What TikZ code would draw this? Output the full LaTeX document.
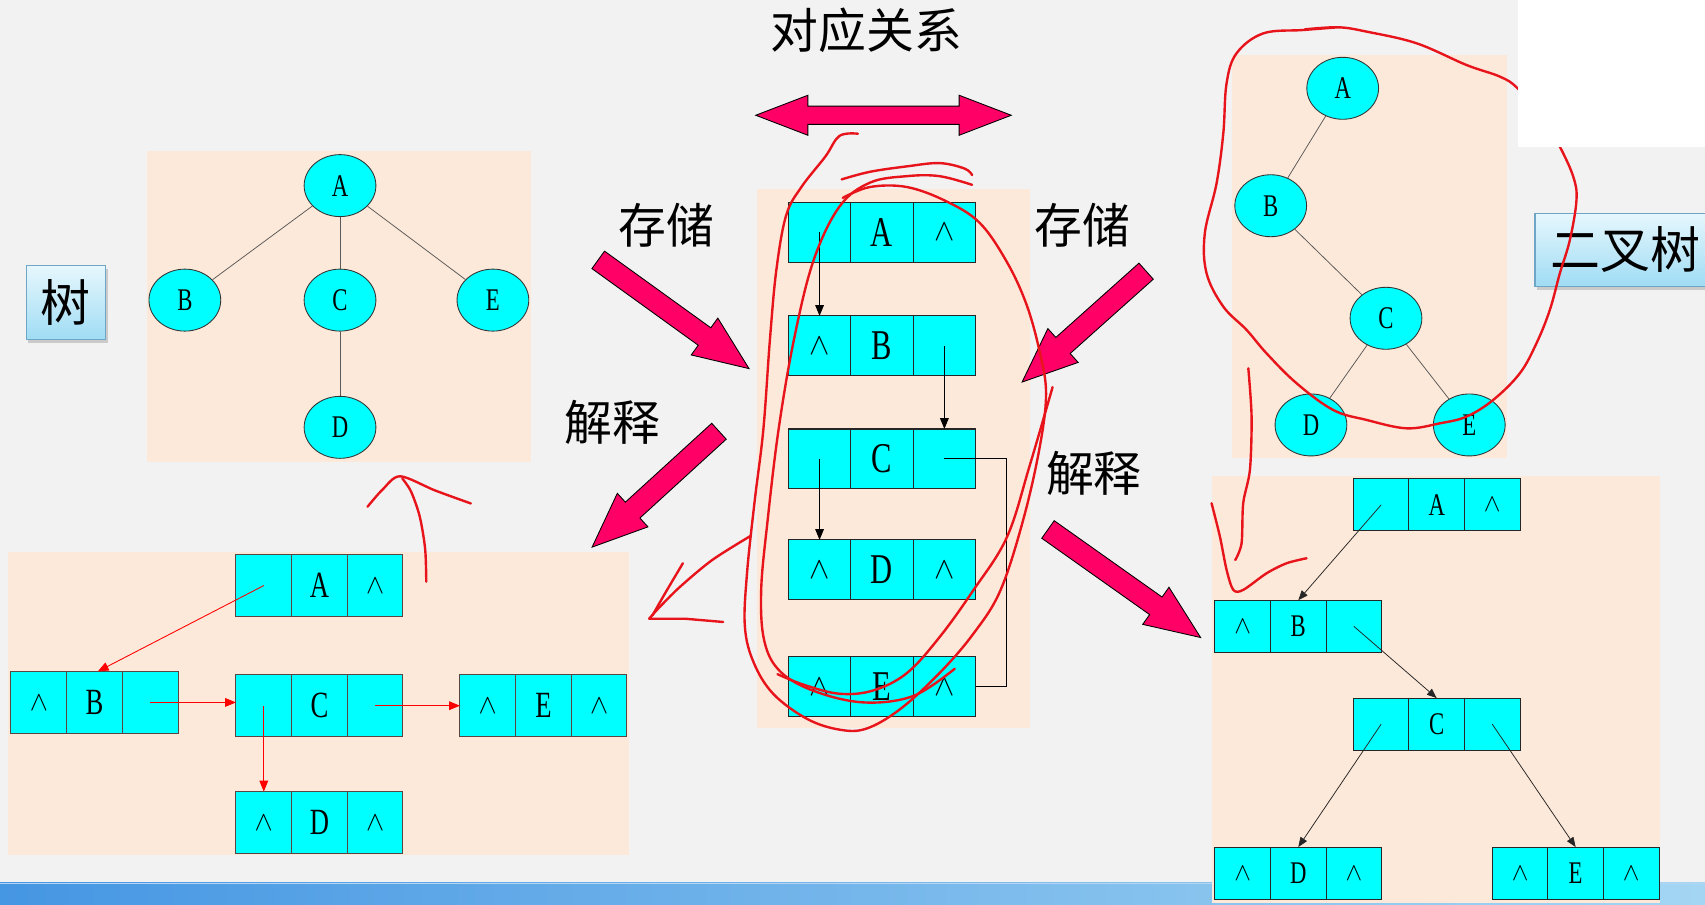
\documentclass[tikz,border=0pt]{standalone}
\usepackage{fix-cm}
\usepackage{fontspec}
\usepackage{graphicx}
\usetikzlibrary{shapes.geometric,shapes.arrows,shadows,arrows.meta,calc}
\setmainfont{Liberation Serif}
\newfontfamily\cjkf{Noto Sans CJK SC}
\newfontfamily\latf[FakeStretch=0.72]{Liberation Serif}
\newcommand\nilsym[1]{{\fontsize{#1}{#1}\selectfont$\wedge$}}
\newcommand\triprow[6]{%
  \node[#1, anchor=west] (#21) at (#3) {#4};
  \node[#1, anchor=west] (#22) at (#21.east) {#5};
  \node[#1, anchor=west] (#23) at (#22.east) {#6};}
\definecolor{bgc}{HTML}{F2F2F2}
\definecolor{peach}{HTML}{FDE9D9}
\definecolor{cy}{HTML}{00FFFF}
\definecolor{pinkc}{HTML}{FF0066}
\definecolor{scribred}{HTML}{E8141B}
\definecolor{barL}{HTML}{4596E3}
\definecolor{barR}{HTML}{A4D6F3}
\definecolor{boxtop}{HTML}{E6F7FD}
\definecolor{boxbot}{HTML}{9FDCF4}
\definecolor{boxline}{HTML}{6FA6C6}
\definecolor{lborder}{HTML}{5A4545}
\tikzset{
  panel/.style={fill=peach, draw=none},
  tnode/.style={ellipse, draw=black!80, fill=cy, line width=0.8pt, minimum width=66pt, minimum height=57pt, inner sep=0pt, font=\latf\fontsize{29}{29}\selectfont},
  tedge/.style={draw=black!65, line width=0.7pt},
  cellL/.style={draw=lborder, fill=cy, line width=0.9pt, minimum width=51.2pt, minimum height=57pt, inner sep=0pt, outer sep=0pt, font=\latf\fontsize{34}{34}\selectfont},
  cellM/.style={draw=black!85, fill=cy, line width=1pt, minimum width=57.4pt, minimum height=55pt, inner sep=0pt, outer sep=0pt, font=\latf\fontsize{39}{39}\selectfont},
  cellR/.style={draw=black!85, fill=cy, line width=0.9pt, minimum width=51.1pt, minimum height=48pt, inner sep=0pt, outer sep=0pt, font=\latf\fontsize{29}{29}\selectfont},
  redarr/.style={draw=red, line width=0.8pt, -{Triangle[length=10pt,width=8pt]}, red},
  blkarr/.style={draw=black, line width=1pt, -{Triangle[length=10pt,width=8pt]}},
  thinarr/.style={draw=black!85, line width=0.7pt, -{Triangle[length=9pt,width=7pt]}},
  barrow/.style={single arrow, draw=black, line width=0.8pt, fill=pinkc, minimum width=41pt, single arrow head extend=11pt, single arrow tip angle=45, inner xsep=0pt, inner ysep=9.5pt, outer sep=0pt},
  lbl/.style={inner sep=0pt, font=\cjkf\fontsize{44}{44}\selectfont},
  labbox/.style={draw=boxline, line width=1pt, top color=boxtop, bottom color=boxbot, inner sep=0pt, font=\cjkf\fontsize{46}{46}\selectfont, drop shadow={shadow xshift=2pt, shadow yshift=-3pt, opacity=0.35}},
  scrib/.style={draw=scribred, line width=2.2pt, line cap=round, line join=round}
}
\begin{document}
\begin{tikzpicture}[x=1pt,y=-1pt]
\useasboundingbox (0,0) rectangle (1568,832);
\clip (0,0) rectangle (1568,832);
\fill[bgc] (0,0) rectangle (1568,832);
% bottom bar
\shade[left color=barL, right color=barR] (0,812) rectangle (1568,832);
\draw[draw=white!60!barL, line width=1.2pt] (0,812.6) -- (1568,812.6);
% panels
\fill[panel] (135,139) rectangle (488,424.6);
\fill[panel] (7.5,508) rectangle (578,786);
\fill[panel] (696,174) rectangle (947,669.5);
\fill[panel] (1132.7,50.6) rectangle (1385.6,421.5);
\fill[panel] (1114.3,437.7) rectangle (1526.6,830);

% left tree
\node[tnode] (tA) at (312.7,170.7) {A};
\node[tnode] (tB) at (170,276) {B};
\node[tnode] (tC) at (312.7,276) {C};
\node[tnode] (tE) at (453.3,276) {E};
\node[tnode] (tD) at (312.7,393) {D};
\draw[tedge] (tA) -- (tB);
\draw[tedge] (tA) -- (tC);
\draw[tedge] (tA) -- (tE);
\draw[tedge] (tC) -- (tD);

% right binary tree
\node[tnode] (bA) at (1234.8,81.2) {A};
\node[tnode] (bB) at (1168.6,189.2) {B};
\node[tnode] (bC) at (1274.6,292.7) {C};
\node[tnode] (bD) at (1205.6,390.8) {D};
\node[tnode] (bE) at (1351.2,390.8) {E};
\draw[tedge] (bA) -- (bB);
\draw[tedge] (bB) -- (bC);
\draw[tedge] (bC) -- (bD);
\draw[tedge] (bC) -- (bE);

% left-bottom linked tree
\triprow{cellL}{lA}{217,538.5}{}{A}{\nilsym{25}}
\triprow{cellL}{lB}{10.1,646}{\nilsym{25}}{B}{}
\triprow{cellL}{lC}{217,649}{}{C}{}
\triprow{cellL}{lE}{423,649}{\nilsym{25}}{E}{\nilsym{25}}
\triprow{cellL}{lD}{217,756.5}{\nilsym{25}}{D}{\nilsym{25}}
\draw[redarr] (lA1.center) -- ([xshift=3pt]lB2.north);
\draw[redarr] (lB3.center) -- (lB3.center -| lC1.west);
\draw[redarr] (lC3.center) -- (lC3.center -| lE1.west);
\draw[redarr] (lC1.center) -- (lC1.center |- lD1.north);

% middle storage
\triprow{cellM}{mA}{725,213.5}{}{A}{\nilsym{28}}
\triprow{cellM}{mB}{725,318}{\nilsym{28}}{B}{}
\triprow{cellM}{mC}{725,422}{}{C}{}
\triprow{cellM}{mD}{725,524}{\nilsym{28}}{D}{\nilsym{28}}
\triprow{cellM}{mE}{725,631.5}{\nilsym{28}}{E}{\nilsym{28}}
\coordinate (mturn) at (926,422);
\draw[blkarr] (mA1.center) -- (mA1.center |- mB1.north);
\draw[blkarr] (mB3.center) -- (mB3.center |- mC3.north);
\draw[blkarr] (mC1.center) -- (mC1.center |- mD1.north);
\draw[draw=black, line width=1pt] (mC3.center) -- (mturn) |- (mE3.east);

% right-bottom binary linked
\triprow{cellR}{rA}{1244.6,464.3}{}{A}{\nilsym{23}}
\triprow{cellR}{rB}{1117.3,576}{\nilsym{23}}{B}{}
\triprow{cellR}{rC}{1244.6,666}{}{C}{}
\triprow{cellR}{rD}{1117.3,803}{\nilsym{23}}{D}{\nilsym{23}}
\triprow{cellR}{rE}{1372.4,803}{\nilsym{23}}{E}{\nilsym{23}}
\draw[thinarr] (rA1.center) -- (rB2.north);
\draw[thinarr] (rB3.center) -- (rC2.north);
\draw[thinarr] (rC1.center) -- (rD2.north);
\draw[thinarr] (rC3.center) -- (rE2.north);

% block arrows
\node[double arrow, draw=black, line width=0.8pt, fill=pinkc, minimum height=235pt, minimum width=36pt, double arrow head extend=10pt, double arrow tip angle=42, inner xsep=0pt, inner ysep=8pt] (rel) at (812.5,106) {};
\node[barrow, minimum height=171pt, rotate=-35.8] (s1) at (609.8,282) {};
\node[barrow, minimum height=158pt, rotate=-137.6] (j1) at (611.7,441.8) {};
\node[barrow, minimum height=153pt, rotate=-138.2] (s2) at (1005.9,292.4) {};
\node[barrow, minimum height=172pt, rotate=-35.3] (j2) at (1024.2,529.7) {};

% labels
\node[lbl] (title) at (797,28) {对应关系};
\node[lbl] (ls) at (613,207) {存储};
\node[lbl] (lj) at (563,388) {解释};
\node[lbl] (rs) at (995.5,207) {存储};
\node[lbl] (rj) at (1006,435) {解释};
\node[labbox, minimum width=73pt, minimum height=68pt] (shu) at (60.5,278.5) {树};
\node[labbox, minimum width=166pt, minimum height=67.6pt] (ecs) at (1494.6,229.8) {二叉树};

% red hand-drawn marks
\draw[scrib] plot[smooth, tension=0.6] coordinates {(789,123)(772,125)(759,144)(737,172)(723,198)(714,248)(708,313)(702,395)(694,461)(687,527)(685,576)(693,609)(711,638)(742,661)(772,671)(797,670)(828,652)(864,619)(895,583)(920,543)(941,478)(956,412)(962,362)(956,323)(944,280)(926,241)(901,205)(870,185)(834,172)(800,172)(775,182)};
\draw[scrib] plot[smooth, tension=0.6] coordinates {(774,165)(800,158)(834,153)(864,150)(887,155)(894,161)};
\draw[scrib] plot[smooth, tension=0.6] coordinates {(894,170)(864,162)(834,162)(800,168)(772,190)(748,240)(730,313)(716,395)(706,478)(700,543)(703,590)(718,618)(750,636)(795,646)(840,640)(878,615)};
\draw[scrib] plot[smooth, tension=0.6] coordinates {(968,356)(947,428)(926,494)(895,543)(864,586)(834,619)(803,635)(772,638)(740,630)(715,620)};
\draw[scrib] plot[smooth, tension=0.5] coordinates {(690,493)(655,515)(625,540)(605,560)(597,569)} -- (630,569) -- (665,572);
\draw[scrib] plot[smooth, tension=0.5] coordinates {(628,518)(612,545)(600,566)};
\draw[scrib] plot[smooth, tension=0.5] coordinates {(392,535)(391,505)(386,475)(378,452)(370,440)};
\draw[scrib] plot[smooth, tension=0.5] coordinates {(338,466)(352,450)(368,438)(400,451)(433,463)};
\draw[scrib] plot[smooth, tension=0.6] coordinates {(1230.7,25.1)(1198.5,27.6)(1161.7,30.7)(1137.2,49)(1128,76.6)(1125,122.6)(1118.8,168.6)(1108,214.6)(1109.6,251.3)(1125,282)(1146.4,303.4)(1164.8,325)(1192.4,352.5)(1226,377)(1256.8,386.2)(1293.5,393.9)(1324.2,389.3)(1348.7,383.1)(1373.2,367.8)(1397.7,343.3)(1413,315.7)(1425.3,285)(1434.5,251.3)(1443.7,220.7)(1449.8,183.9)(1446.8,162.4)(1434.5,134.9)(1420,110)(1395.6,81.2)(1379.4,70.5)(1348.7,59.8)(1302.7,39.8)(1256.8,29.1)(1230.7,25.1)(1200,27)};
\draw[scrib] plot[smooth, tension=0.5] coordinates {(1148,338.7)(1151,383)(1149.5,432)(1143.3,462.8)(1141.8,499.6)(1136,515)};
\draw[scrib] plot[smooth, tension=0.5] coordinates {(1114.2,462.8)(1121.9,493.5)(1128,524)(1134.2,542.5)(1143.3,542.5)(1164.8,527.2)(1183.2,518)(1201.6,513.4)};
% white patch top right
\fill[white] (1396,0) rectangle (1568,135);
\end{tikzpicture}
\end{document}
